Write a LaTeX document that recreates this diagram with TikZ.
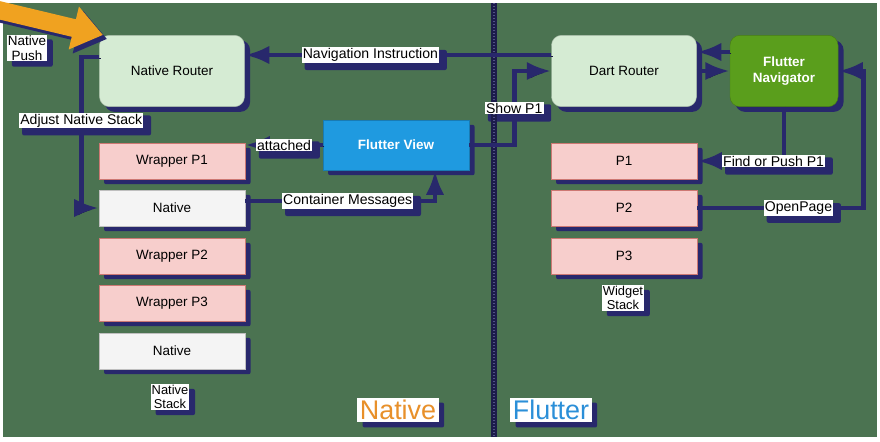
\documentclass[tikz,border=0pt]{standalone}
\usepackage{fontspec}
\setmainfont{Liberation Sans}
\usetikzlibrary{arrows.meta,backgrounds}
\definecolor{bggreen}{RGB}{75,115,81}
\definecolor{navy}{RGB}{40,40,108}
\definecolor{routergreen}{RGB}{213,235,211}
\definecolor{pagepink}{RGB}{247,206,204}
\definecolor{pinkline}{RGB}{205,120,115}
\definecolor{nativewhite}{RGB}{244,244,244}
\definecolor{viewblue}{RGB}{31,154,224}
\definecolor{navgreen}{RGB}{90,158,28}
\definecolor{pushorange}{RGB}{240,162,32}
\definecolor{nativeorange}{RGB}{232,144,42}
\definecolor{flutterblue}{RGB}{43,143,216}
\tikzset{
  router/.style={rounded corners=0.3cm,fill=routergreen,draw=routergreen!80!black,minimum width=4.35cm,minimum height=2.14cm,font=\fontsize{11.5}{13}\selectfont},
  page/.style={fill=pagepink,draw=pinkline,minimum width=4.38cm,minimum height=1.08cm,font=\fontsize{11.5}{13}\selectfont},
  nativepage/.style={page,fill=nativewhite,draw=gray!50},
  tag/.style={fill=white,text=black,inner sep=1pt,font=\fontsize{12}{13}\selectfont},
  stacktag/.style={tag,align=center,font=\fontsize{11}{12}\selectfont},
  sidetag/.style={tag,inner sep=2pt,font=\fontsize{23}{25}\selectfont},
  conn/.style={draw=navy,line width=0.14cm,preaction={draw=navy!60!black,transform canvas={xshift=0.05cm,yshift=-0.05cm}}},
}
\begin{document}
\begin{tikzpicture}[x=0.03cm,y=-0.03cm]
\useasboundingbox (0,0) rectangle (880,441);
\draw[navy!70!black,line width=0.17cm] (494,3) -- (494,437);
\draw[navy!80,line width=0.08cm,dash pattern=on 0.04cm off 0.05cm] (494,3) -- (494,437);

\node[router] (nr) at (172,71) {Native Router};
\node[router] (dr) at (624,71) {Dart Router};
\node[router,fill=navgreen,draw=navgreen!80!black,minimum width=3.24cm,text=white,align=center,font=\fontsize{11.5}{13}\selectfont\bfseries] (nav) at (784,71) {Flutter\\Navigator};
\node[fill=viewblue,draw=viewblue!80!black,minimum width=4.38cm,minimum height=1.5cm,text=white,font=\fontsize{11.5}{13}\selectfont\bfseries] (fv) at (396,145) {Flutter View};

\node[page] (wp1) at (172,161) {Wrapper P1};
\node[nativepage] (n1) at (172,208) {Native};
\node[page] (wp2) at (172,256) {Wrapper P2};
\node[page] (wp3) at (172,303) {Wrapper P3};
\node[nativepage] (n2) at (172,351) {Native};
\node[stacktag] (nstack) at (170,397) {Native\\Stack};

\node[page] (p1) at (624,161) {P1};
\node[page] (p2) at (624,208) {P2};
\node[page] (p3) at (624,256) {P3};
\node[stacktag] (wstack) at (623,298) {Widget\\Stack};

\node[stacktag,font=\fontsize{11.5}{12.5}\selectfont] (push) at (27,48) {Native\\Push};
\node[sidetag,text=nativeorange] (nside) at (398,410) {Native};
\node[sidetag,text=flutterblue] (fside) at (551,410) {Flutter};

\draw[conn,-{Latex}] ([yshift=0.48cm]dr.west) -- ([yshift=0.48cm]nr.east) node[tag,pos=0.59] (lnav) {Navigation Instruction};
\draw[conn,-{Latex}] ([yshift=0.42cm]nr.west) -- ++(-18,0) |- (n1.west) node[tag,pos=0.21] (ladj) {Adjust Native Stack};
\draw[conn,-{Latex}] (fv.west) -- (fv.west -| wp1.east) node[tag,midway] (latt) {attached};
\draw[conn,-{Latex}] ([yshift=0.21cm]n1.east) -| ([xshift=1.17cm]fv.south) node[tag,pos=0.27] (lcont) {Container Messages};
\draw[conn,-{Latex}] (fv.east) -- ++(45,0) |- (dr.west) node[tag,pos=0.25] (lshow) {Show P1};
\draw[conn,-{Latex}] ([yshift=0.57cm]nav.west) -- ([yshift=0.57cm]dr.east);
\draw[conn,-{Latex}] (dr.east) -- (nav.west);
\draw[conn,-{Latex}] (nav.south) |- (p1.east) node[tag,pos=0.56] (lfind) {Find or Push P1};
\draw[conn,-{Latex}] (p2.east) -- ++(166,0) node[tag,pos=0.61] (lopen) {OpenPage} |- (nav.east);

\begin{scope}
\clip (0,0) rectangle (880,441);
\draw[navy,line width=0.54cm,-{Triangle[length=0.9cm,width=1.26cm]}] (-6,12) -- (107,39);
\draw[pushorange,line width=0.54cm,-{Triangle[length=0.9cm,width=1.26cm]}] (-10,8) -- (103,35);
\end{scope}

\begin{scope}[on background layer]
\fill[white] (0,0) rectangle (880,441);
\fill[bggreen] (3,3) rectangle (877,437);
\foreach \n in {nr,dr,nav}
  \fill[navy,rounded corners=0.3cm] ([shift={(0.16cm,-0.15cm)}]\n.south west) rectangle ([shift={(0.16cm,-0.15cm)}]\n.north east);
\foreach \n in {fv,wp1,n1,wp2,wp3,n2,nstack,p1,p2,p3,wstack,push,nside,fside,lnav,ladj,latt,lcont,lshow,lfind,lopen}
  \fill[navy,rounded corners=0.06cm] ([shift={(0.16cm,-0.15cm)}]\n.south west) rectangle ([shift={(0.16cm,-0.15cm)}]\n.north east);
\end{scope}
\end{tikzpicture}
\end{document}
